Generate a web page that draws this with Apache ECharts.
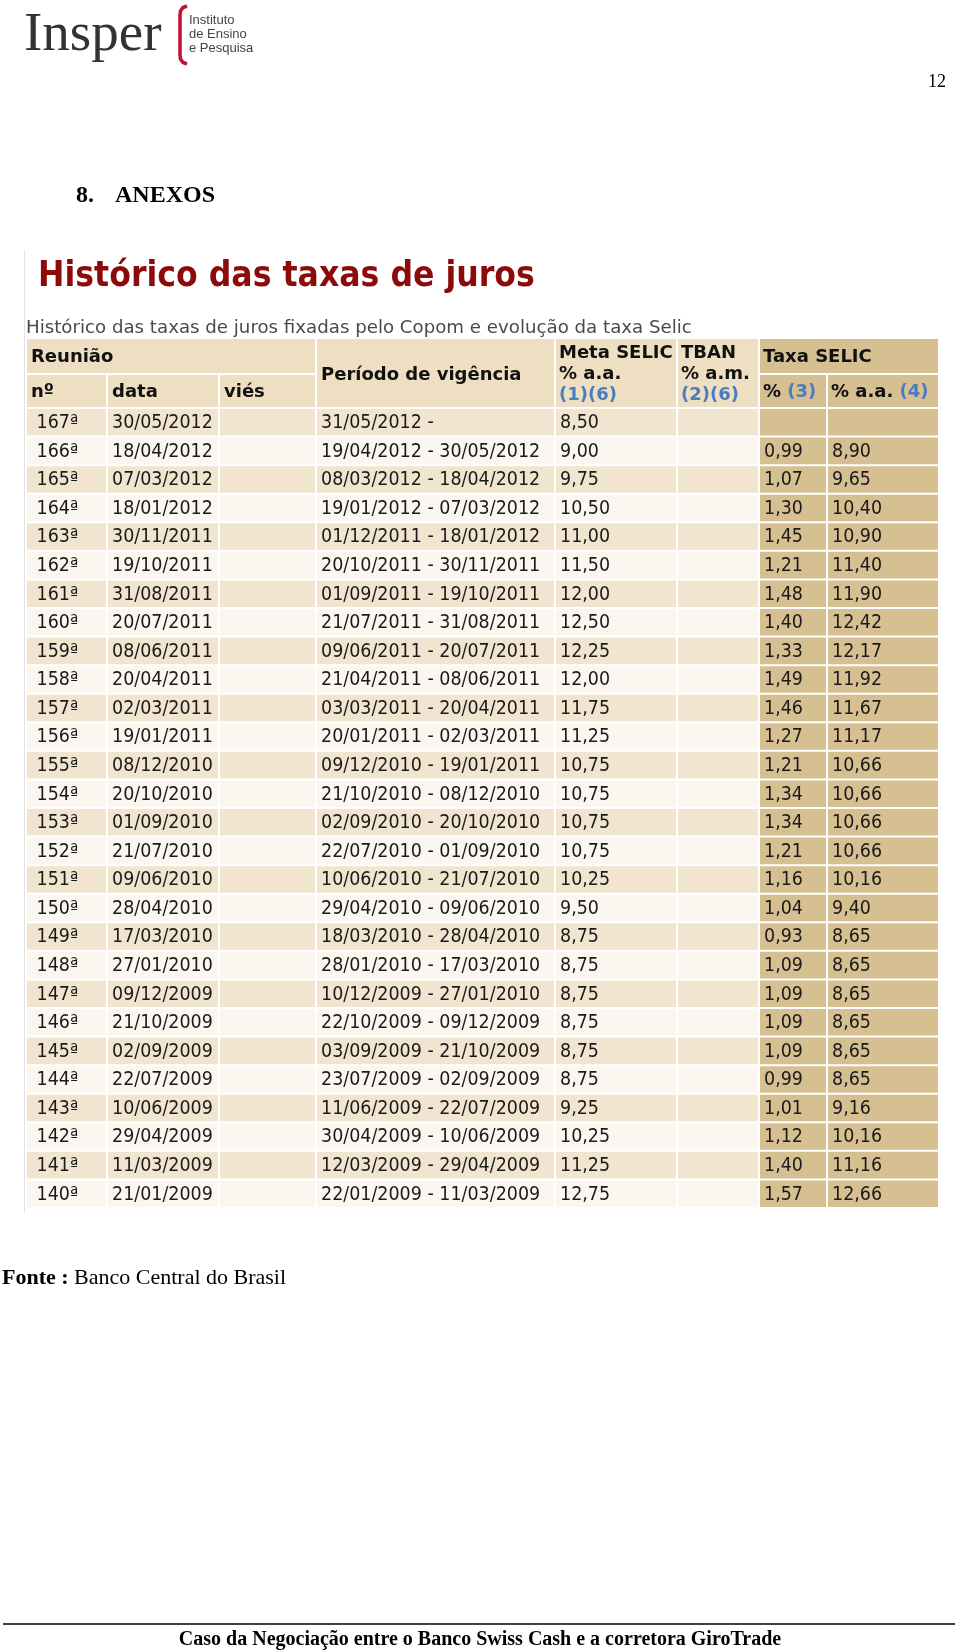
<!DOCTYPE html>
<html>
<head>
<meta charset="utf-8">
<script src="https://cdn.jsdelivr.net/npm/echarts@6/dist/echarts.min.js"></script>
<style>
  html, body { margin: 0; padding: 0; background: #fff; }
  #chart { width: 960px; height: 1652px; }
</style>
</head>
<body>
<div id="chart"></div>
<script>
// dados da tabela (Copom)
const reunioes = ['167ª', '166ª', '165ª', '164ª', '163ª', '162ª', '161ª', '160ª', '159ª', '158ª', '157ª', '156ª', '155ª', '154ª',
  '153ª', '152ª', '151ª', '150ª', '149ª', '148ª', '147ª', '146ª', '145ª', '144ª', '143ª', '142ª', '141ª', '140ª']
const datas = ['30/05/2012', '18/04/2012', '07/03/2012', '18/01/2012', '30/11/2011', '19/10/2011', '31/08/2011', '20/07/2011',
  '08/06/2011', '20/04/2011', '02/03/2011', '19/01/2011', '08/12/2010', '20/10/2010', '01/09/2010', '21/07/2010',
  '09/06/2010', '28/04/2010', '17/03/2010', '27/01/2010', '09/12/2009', '21/10/2009', '02/09/2009', '22/07/2009',
  '10/06/2009', '29/04/2009', '11/03/2009', '21/01/2009']
const vigencia = ['31/05/2012 -', '19/04/2012 - 30/05/2012', '08/03/2012 - 18/04/2012', '19/01/2012 - 07/03/2012',
  '01/12/2011 - 18/01/2012', '20/10/2011 - 30/11/2011', '01/09/2011 - 19/10/2011', '21/07/2011 - 31/08/2011',
  '09/06/2011 - 20/07/2011', '21/04/2011 - 08/06/2011', '03/03/2011 - 20/04/2011', '20/01/2011 - 02/03/2011',
  '09/12/2010 - 19/01/2011', '21/10/2010 - 08/12/2010', '02/09/2010 - 20/10/2010', '22/07/2010 - 01/09/2010',
  '10/06/2010 - 21/07/2010', '29/04/2010 - 09/06/2010', '18/03/2010 - 28/04/2010', '28/01/2010 - 17/03/2010',
  '10/12/2009 - 27/01/2010', '22/10/2009 - 09/12/2009', '03/09/2009 - 21/10/2009', '23/07/2009 - 02/09/2009',
  '11/06/2009 - 22/07/2009', '30/04/2009 - 10/06/2009', '12/03/2009 - 29/04/2009', '22/01/2009 - 11/03/2009']
const metaSelic = [8.50, 9.00, 9.75, 10.50, 11.00, 11.50, 12.00, 12.50, 12.25, 12.00, 11.75, 11.25, 10.75, 10.75,
  10.75, 10.75, 10.25, 9.50, 8.75, 8.75, 8.75, 8.75, 8.75, 8.75, 9.25, 10.25, 11.25, 12.75]
const tban = [null, null, null, null, null, null, null, null, null, null, null, null, null, null,
  null, null, null, null, null, null, null, null, null, null, null, null, null, null]
const selicMes = [null, 0.99, 1.07, 1.30, 1.45, 1.21, 1.48, 1.40, 1.33, 1.49, 1.46, 1.27, 1.21, 1.34,
  1.34, 1.21, 1.16, 1.04, 0.93, 1.09, 1.09, 1.09, 1.09, 0.99, 1.01, 1.12, 1.40, 1.57]
const selicAno = [null, 8.90, 9.65, 10.40, 10.90, 11.40, 11.90, 12.42, 12.17, 11.92, 11.67, 11.17, 10.66, 10.66,
  10.66, 10.66, 10.16, 9.40, 8.65, 8.65, 8.65, 8.65, 8.65, 8.65, 9.16, 10.16, 11.16, 12.66]

const TX = 26 // borda esquerda da tabela
const COLS = [0, 81, 193, 290, 529, 651, 733, 801, 913] // bordas das colunas
const FONT = '"DejaVu Sans", Verdana, sans-serif'
const C_LIGHT = '#f1e5cf'
const C_WHITE = '#fbf7f0'
const C_HEAD = '#eedfc3'
const C_DARK = '#d6bf91'
const C_BLUE = '#4a7cc0'

const fmt = (v) => (v == null ? '' : v.toFixed(2).replace('.', ','))

const chart = echarts.init(document.getElementById('chart'))

function txt(x, y, text, font, fill, extra) {
  return Object.assign({
    type: 'text', x: x, y: y,
    style: { text: text, font: font, fill: fill || '#000', verticalAlign: 'middle' },
  }, extra || {})
}

function cell(c0, c1, y0, y1, color) {
  return {
    type: 'rect',
    shape: { x: TX + COLS[c0] + 1, y: y0 + 1, width: COLS[c1] - COLS[c0] - 2, height: y1 - y0 - 2 },
    style: { fill: color },
  }
}

const HA = 338, HB = 374, HE = 408
const hb = 'bold 18px ' + FONT
const headRich = {
  b: { font: hb, fill: C_BLUE },
}

const graphics = [
  // logo
  txt(24, 36, 'Insper', '55px "Liberation Serif", serif', '#333'),
  {
    type: 'polyline',
    shape: { points: [[187, 6], [183, 7.5], [180.5, 11], [180, 15], [180, 55], [180.5, 59], [183, 62.5], [187, 64]] },
    style: { stroke: '#c8102e', lineWidth: 3.5, fill: null },
  },
  txt(189, 20, 'Instituto', '13px "Liberation Sans", sans-serif', '#444'),
  txt(189, 34, 'de Ensino', '13px "Liberation Sans", sans-serif', '#444'),
  txt(189, 48, 'e Pesquisa', '13px "Liberation Sans", sans-serif', '#444'),
  {
    type: 'text', x: 946, y: 82,
    style: { text: '12', font: '18px "Liberation Serif", serif', fill: '#000', align: 'right', verticalAlign: 'middle' },
  },
  txt(76, 196, '8.', 'bold 24px "Liberation Serif", serif', '#000'),
  txt(115, 196, 'ANEXOS', 'bold 24px "Liberation Serif", serif', '#000'),
  // moldura do print
  { type: 'line', shape: { x1: 24.5, y1: 250, x2: 24.5, y2: 1212 }, style: { stroke: '#e2e2e2', lineWidth: 1 } },
  txt(38, 277, 'Histórico das taxas de juros', 'bold 31.6px ' + FONT, '#8c0a0a', { scaleY: 1.1 }),
  txt(26, 328, 'Histórico das taxas de juros fixadas pelo Copom e evolução da taxa Selic', '18.2px ' + FONT, '#4a4a4a'),
  // cabeçalho
  cell(0, 3, HA, HB, C_HEAD),
  cell(0, 1, HB, HE, C_HEAD),
  cell(1, 2, HB, HE, C_HEAD),
  cell(2, 3, HB, HE, C_HEAD),
  cell(3, 4, HA, HE, C_HEAD),
  cell(4, 5, HA, HE, C_HEAD),
  cell(5, 6, HA, HE, C_HEAD),
  cell(6, 8, HA, HB, C_DARK),
  cell(6, 7, HB, HE, C_DARK),
  cell(7, 8, HB, HE, C_DARK),
  txt(TX + 5, 357, 'Reunião', hb, '#111'),
  txt(TX + 5, 392, 'nº', hb, '#111'),
  txt(TX + COLS[1] + 5, 392, 'data', hb, '#111'),
  txt(TX + COLS[2] + 5, 392, 'viés', hb, '#111'),
  txt(TX + COLS[3] + 5, 375, 'Período de vigência', hb, '#111'),
  txt(TX + COLS[4] + 4, 353, 'Meta SELIC', hb, '#111'),
  txt(TX + COLS[4] + 4, 374, '% a.a.', hb, '#111'),
  txt(TX + COLS[4] + 4, 395, '(1)(6)', hb, C_BLUE),
  txt(TX + COLS[5] + 4, 353, 'TBAN', hb, '#111'),
  txt(TX + COLS[5] + 4, 374, '% a.m.', hb, '#111'),
  txt(TX + COLS[5] + 4, 395, '(2)(6)', hb, C_BLUE),
  txt(TX + COLS[6] + 4, 357, 'Taxa SELIC', hb, '#111'),
  {
    type: 'text', x: TX + COLS[6] + 4, y: 392,
    style: { text: '% {b|(3)}', font: hb, fill: '#111', verticalAlign: 'middle', rich: headRich },
  },
  {
    type: 'text', x: TX + COLS[7] + 4, y: 392,
    style: { text: '% a.a. {b|(4)}', font: hb, fill: '#111', verticalAlign: 'middle', rich: headRich },
  },
  // fonte
  {
    type: 'text', x: 2, y: 1278,
    style: {
      text: '{b|Fonte :} Banco Central do Brasil', font: '22px "Liberation Serif", serif', fill: '#000',
      verticalAlign: 'middle', rich: { b: { font: 'bold 22px "Liberation Serif", serif', fill: '#000' } },
    },
  },
  // rodapé
  { type: 'line', shape: { x1: 3, y1: 1624, x2: 955, y2: 1624 }, style: { stroke: '#000', lineWidth: 1.5 } },
  {
    type: 'text', x: 480, y: 1640,
    style: {
      text: 'Caso da Negociação entre o Banco Swiss Cash e a corretora GiroTrade',
      font: 'bold 20px "Liberation Serif", serif', fill: '#000', align: 'center', verticalAlign: 'middle',
    },
  },
]

const rowData = reunioes.map((r, i) => [0, i])

function renderRow(params, api) {
  const i = api.value(1)
  const yc = api.coord([0, i])[1]
  const h = api.size([0, 1])[1]
  const y0 = yc - h / 2
  const base = i % 2 === 0 ? C_LIGHT : C_WHITE
  const texts = ['\u00a0' + reunioes[i], datas[i], '', vigencia[i], fmt(metaSelic[i]), fmt(tban[i]), fmt(selicMes[i]), fmt(selicAno[i])]
  const children = []
  for (let c = 0; c < 8; c++) {
    const x0 = api.coord([COLS[c], i])[0]
    const x1 = api.coord([COLS[c + 1], i])[0]
    children.push({
      type: 'rect',
      shape: { x: x0 + 1, y: y0 + 1, width: x1 - x0 - 2, height: h - 2 },
      style: { fill: c >= 6 ? C_DARK : base },
    })
    if (texts[c]) {
      children.push({
        type: 'text', x: x0 + 5, y: yc + 1, scaleY: 1.08, originY: 0,
        style: { text: texts[c], font: '17.5px ' + FONT, fill: '#1a1a1a', verticalAlign: 'middle' },
      })
    }
  }
  return { type: 'group', children: children }
}

const option = {
  animation: false,
  grid: { left: TX, top: HE, width: COLS[8], height: 800 },
  xAxis: { type: 'value', min: 0, max: COLS[8], show: false },
  yAxis: { type: 'category', data: reunioes, inverse: true, show: false },
  series: [
    {
      type: 'custom',
      renderItem: renderRow,
      data: rowData,
      encode: { x: 0, y: 1 },
    },
  ],
  graphic: graphics,
}
chart.setOption(option)
</script>
</body>
</html>
